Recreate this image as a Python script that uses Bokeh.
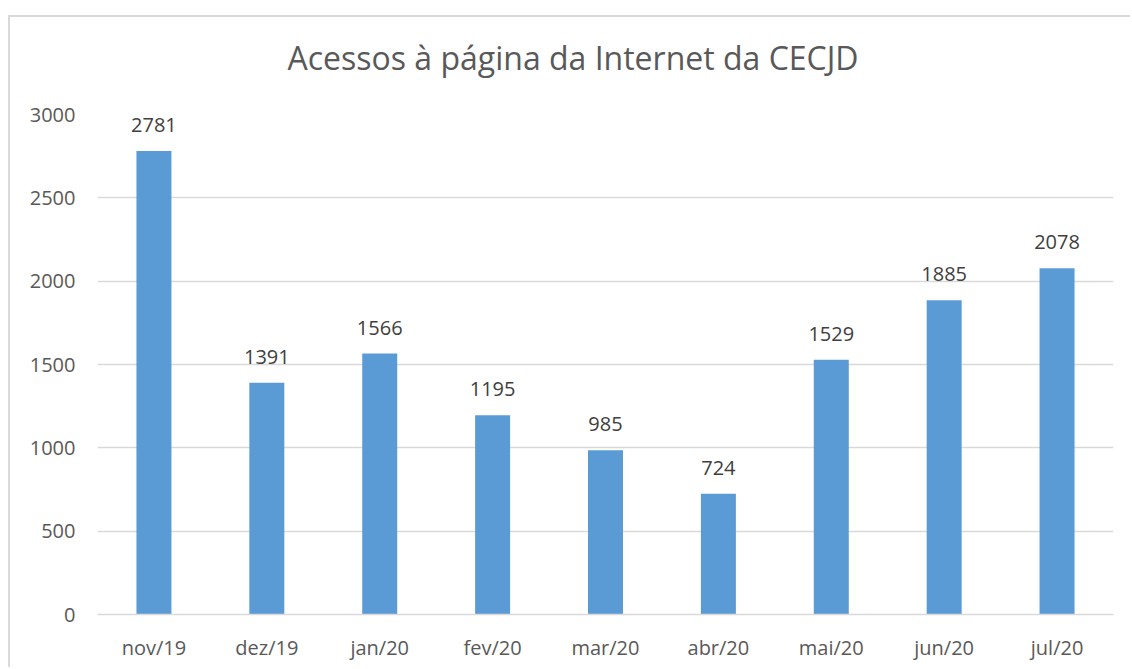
from bokeh.plotting import figure
from bokeh.models import ColumnDataSource, LabelSet, FixedTicker, Title, Range1d, Spacer
from bokeh.layouts import column, row
from bokeh.core.properties import value
from bokeh.embed import file_html
from bokeh.resources import INLINE

months = ["nov/19", "dez/19", "jan/20", "fev/20", "mar/20", "abr/20", "mai/20", "jun/20", "jul/20"]
acessos = [2781, 1391, 1566, 1195, 985, 724, 1529, 1885, 2078]
y_ticks = [0, 500, 1000, 1500, 2000, 2500, 3000]
title_text = "Acessos à página da Internet da CECJD"

FONT = "Open Sans"
src = ColumnDataSource(dict(m=months, v=acessos, t=[str(a) for a in acessos]))

p = figure(x_range=months, y_range=Range1d(0, 3000), width=1122, height=652,
           output_backend="svg", toolbar_location=None,
           min_border_left=87, min_border_right=19, min_border_top=97, min_border_bottom=55)
p.styles = {"box-shadow": "-2px -2px 0 0 #d9d9d9"}
p.outline_line_color = None

p.vbar(x="m", top="v", width=0.31, source=src, fill_color="#5B9BD5", line_color=None)

labels = LabelSet(x="m", y="v", text="t", source=src, text_align="center", text_baseline="bottom",
                  y_offset=19, text_font=value(FONT), text_font_size="20px", text_color="#404040")
p.add_layout(labels)

# invisible gap between the chart title and the plot area
gap = Title(text=" ", text_font_size="1px", standoff=31)
p.add_layout(gap, "above")

t = Title(text=title_text, align="left", vertical_align="top", text_font=FONT, text_font_size="32px",
          text_font_style="normal", text_color="#595959", standoff=0, offset=190)
p.add_layout(t, "above")

p.yaxis.ticker = FixedTicker(ticks=y_ticks)
p.yaxis.axis_line_color = None
p.yaxis.major_tick_line_color = None
p.yaxis.minor_tick_line_color = None
p.yaxis.major_label_text_font = FONT
p.yaxis.major_label_text_font_size = "20px"
p.yaxis.major_label_text_color = "#595959"
p.yaxis.major_label_standoff = 16

p.xaxis.axis_line_color = "#D9D9D9"
p.xaxis.axis_line_width = 1.5
p.xaxis.major_tick_line_color = None
p.xaxis.minor_tick_line_color = None
p.xaxis.major_label_text_font = FONT
p.xaxis.major_label_text_font_size = "20px"
p.xaxis.major_label_text_color = "#595959"
p.xaxis.major_label_standoff = 13

p.xgrid.grid_line_color = None
p.ygrid.grid_line_color = "#D9D9D9"
p.ygrid.grid_line_width = 1.5
p.x_range.range_padding = 0

layout = column(Spacer(height=17), row(Spacer(width=10), p, spacing=0), spacing=0)

open("out.html", "w").write(file_html(layout, INLINE))
